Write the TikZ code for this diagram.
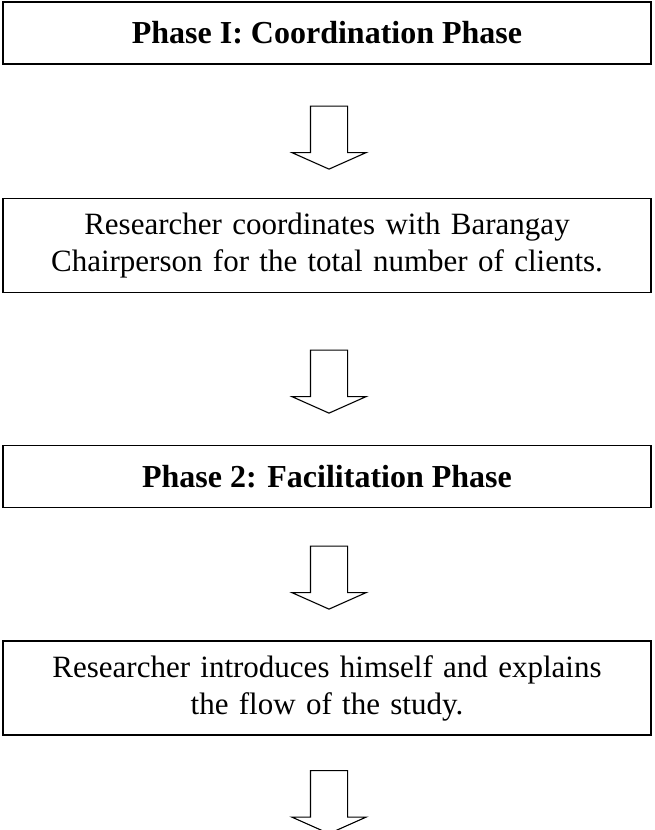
\documentclass[tikz,border=0pt]{standalone}
\usepackage{fontspec}
\setmainfont{Liberation Serif}
\usetikzlibrary{shapes.arrows}
\tikzstyle{phase} = [rectangle, minimum width=648pt, minimum height=62pt, text centered, draw=black, line width=1.5pt, font=\fontsize{32}{37}\selectfont\bfseries]
\tikzstyle{activity} = [rectangle, minimum width=648pt, minimum height=94pt, text width=640pt, align=center, draw=black, line width=1.5pt, font=\fontsize{31}{37}\selectfont]
\tikzstyle{flow} = [single arrow, shape border rotate=270, draw=black, line width=1.1pt, minimum height=63pt, single arrow head extend=18.5pt, single arrow tip angle=132, inner sep=18pt]

\begin{document}
\begin{tikzpicture}[node distance=105pt]
\useasboundingbox (0,0) rectangle (655pt,830pt);
\node (coord) [phase] at (327pt,797pt) {Phase I: Coordination Phase};
\node (arr1) [flow, below of=coord, xshift=2pt, yshift=4.5pt] {};
\node (barangay) [activity, below of=coord, yshift=-107.5pt] {Researcher coordinates with Barangay\\Chairperson for the total number of clients.};
\node (arr2) [flow, below of=barangay, xshift=2pt, yshift=-27pt] {};
\node (facil) [phase, below of=barangay, yshift=-126pt] {Phase 2: Facilitation Phase};
\node (arr3) [flow, below of=facil, xshift=2pt, yshift=8pt] {};
\node (intro) [activity, below of=facil, yshift=-106.5pt] {Researcher introduces himself and explains\\the flow of the study.};
\node (arr4) [flow, below of=intro, xshift=2pt, yshift=-5pt] {};
\end{tikzpicture}
\end{document}
